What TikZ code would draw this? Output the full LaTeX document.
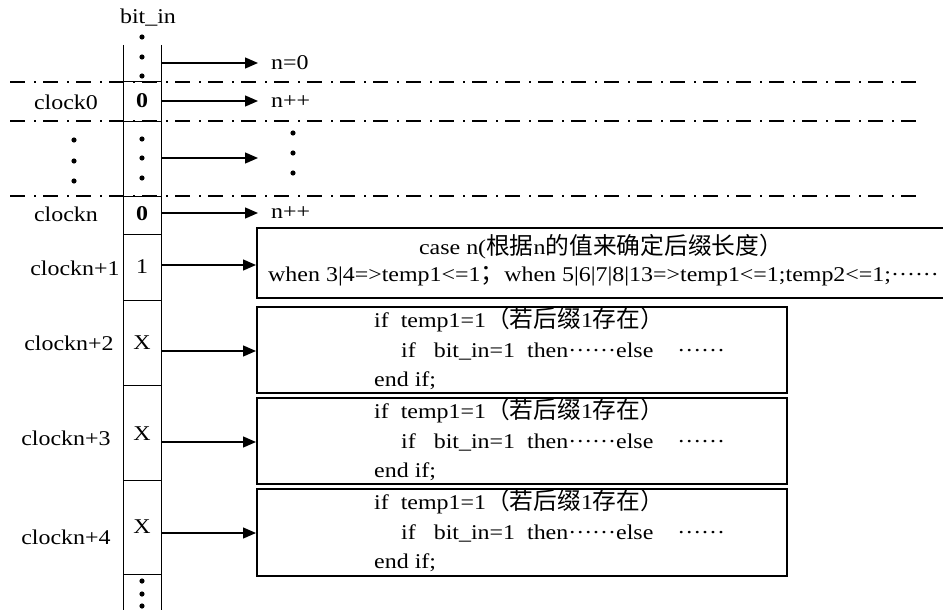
\documentclass[tikz,border=0pt]{standalone}
\usepackage{fontspec}
\setmainfont{Liberation Serif}[FakeStretch=1.14]
\newfontfamily\cjk{Noto Sans CJK SC}[Scale=1.13]
\usetikzlibrary{arrows.meta}
\begin{document}
\begin{tikzpicture}[x=1pt,y=-1pt,
  every node/.style={font=\fontsize{21}{24}\selectfont, inner sep=0pt},
  arr/.style={line width=1.3pt,-{Triangle[length=13pt,width=11pt]}},
  dd/.style={line width=1.1pt, dash pattern=on 15pt off 9pt on 1.5pt off 7.5pt},
  col/.style={line width=1pt},
  box/.style={draw, line width=1.5pt, anchor=north west},
  txt/.style={anchor=west},
  dotc/.style={radius=2.6pt},
]
\useasboundingbox (0,0) rectangle (943,610);

% dash-dot separators
\foreach \yy in {82,121,196} \draw[dd] (10,\yy) -- (925,\yy);

% bit_in column
\draw[col] (123.5,45) -- (123.5,610);
\draw[col] (161.5,45) -- (161.5,610);
\foreach \yy in {82,121,196,234,300,385,480,574} \draw[col] (123.5,\yy) -- (161.5,\yy);

\node (bitin) at (148,18) {bit\_in};

% dots in column
\foreach \yy in {37,57,76,139,158,178,581,594,606} \fill (142,\yy) circle[dotc];
% left dots
\foreach \yy in {140,161,181} \fill (74,\yy) circle[dotc];
% right dots
\foreach \yy in {133,153,173} \fill (293,\yy) circle[dotc];

% cell values
\node (v0) at (142,101) {\textbf{0}};
\node (vn) at (142,214) {\textbf{0}};
\node (v1) at (142,267) {1};
\node (v2) at (142,343) {X};
\node (v3) at (142,434) {X};
\node (v4) at (142,527) {X};

% clock labels
\node (c0) at (66,102) {clock0};
\node (cn) at (66,214) {clockn};
\node (cn1) at (75,268) {clockn+1};
\node (cn2) at (69,343) {clockn+2};
\node (cn3) at (66,438) {clockn+3};
\node (cn4) at (66,537) {clockn+4};

% right labels
\node[txt] (t0) at (271,63) {n=0};
\node[txt] (t1) at (271,102) {n++};
\node[txt] (t2) at (271,213) {n++};

% boxes
\node[box, minimum width=700pt, minimum height=70pt] (b1) at (256,227) {};
\node[box, minimum width=530pt, minimum height=86pt] (b2) at (256,306) {};
\node[box, minimum width=530pt, minimum height=86pt] (b3) at (256,397) {};
\node[box, minimum width=530pt, minimum height=87pt] (b4) at (256,488) {};

\node (b1l1) at (601,247) {case n({\cjk 根据}n{\cjk 的值来确定后缀长度）}};
\node[txt] (b1l2) at (268,276) {when 3|4=>temp1<=1{\cjk ；}when 5|6|7|8|13=>temp1<=1;temp2<=1;······};

\foreach \b/\yy in {b2/320,b3/411,b4/502}{
  \node[txt] (\b l1) at (374,\yy) {if~~temp1=1{\cjk （若后缀}1{\cjk 存在）}};
  \node[txt] (\b l2) at (401,\yy+31) {if~~~bit\_in=1~~then······else~~~~······};
  \node[txt] (\b l3) at (374,\yy+61) {end if;};
}

% arrow anchors
\coordinate (s0) at (161.5,63);  \coordinate (e0) at (258,63);
\coordinate (s1) at (161.5,101); \coordinate (e1) at (258,101);
\coordinate (s2) at (161.5,158); \coordinate (e2) at (258,158);
\coordinate (s3) at (161.5,213); \coordinate (e3) at (258,213);
\coordinate (s4) at (161.5,265);
\coordinate (s5) at (161.5,351);
\coordinate (s6) at (161.5,442);
\coordinate (s7) at (161.5,533);

\draw[arr] (s0) -- (e0);
\draw[arr] (s1) -- (e1);
\draw[arr] (s2) -- (e2);
\draw[arr] (s3) -- (e3);
\draw[arr] (s4) -- (s4 -| b1.west);
\draw[arr] (s5) -- (s5 -| b2.west);
\draw[arr] (s6) -- (s6 -| b3.west);
\draw[arr] (s7) -- (s7 -| b4.west);
\end{tikzpicture}
\end{document}
